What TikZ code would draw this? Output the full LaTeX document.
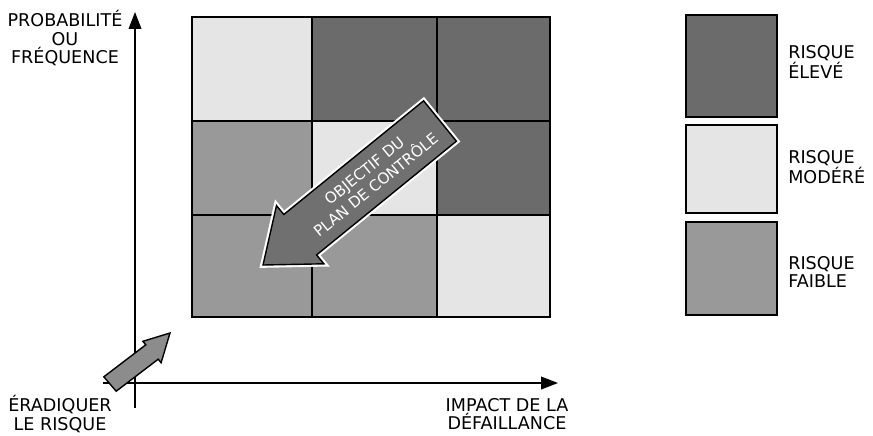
\documentclass[tikz,border=0pt]{standalone}
\usepackage{fontspec}
\setmainfont{DejaVu Sans}
\usetikzlibrary{arrows.meta}
\definecolor{riskhigh}{gray}{0.42}
\definecolor{riskmid}{gray}{0.90}
\definecolor{risklow}{gray}{0.60}
\definecolor{bigarrcol}{gray}{0.44}
\definecolor{smallarrcol}{gray}{0.55}
\tikzset{
  lbl/.style={align=center,inner sep=0pt,font=\fontsize{12.5}{13}\selectfont},
  leglbl/.style={align=left,anchor=west,inner sep=0pt,font=\fontsize{12.5}{12.5}\selectfont},
  arrtxt/.style={align=center,inner sep=0pt,text=white,font=\fontsize{10.8}{13}\selectfont},
  axis/.style={line width=1pt,-{Triangle[length=12pt,width=9pt]}},
  gridline/.style={line width=1.3pt},
  legbox/.style={draw=black,line width=1.3pt},
  blockarr/.style={draw=black,line width=1pt,line join=miter}
}

\begin{document}
\begin{tikzpicture}[x=0.025cm,y=-0.025cm]
  \useasboundingbox (0,0) rectangle (873,435);

  %% risk matrix
  \foreach \xa/\ya/\xb/\yb/\col in {
      192/17/312/121/riskmid, 312/17/437/121/riskhigh, 437/17/550/121/riskhigh,
      192/121/312/215/risklow, 312/121/437/215/riskmid, 437/121/550/215/riskhigh,
      192/215/312/317/risklow, 312/215/437/317/risklow, 437/215/550/317/riskmid}
    \fill[\col] (\xa,\ya) rectangle (\xb,\yb);
  \draw[gridline] (192,17) rectangle (550,317);
  \draw[gridline] (312,17) -- (312,317) (437,17) -- (437,317);
  \draw[gridline] (192,121) -- (550,121) (192,215) -- (550,215);

  %% axes
  \coordinate (ybot) at (135,408);
  \coordinate (ytip) at (135,12);
  \coordinate (xleft) at (103,383);
  \coordinate (xtip) at (558,383);
  \draw[axis] (ybot) -- (ytip);
  \draw[axis] (xleft) -- (xtip);

  \node[lbl] (ylbl) at (65,38) {PROBABILITÉ\\OU\\FRÉQUENCE};
  \node[lbl] (xlbl) at (507,414) {IMPACT DE LA\\DÉFAILLANCE};
  \node[lbl] (eradlbl) at (60,414) {ÉRADIQUER\\LE RISQUE};

  %% big arrow
  \draw[white,line width=4pt,line join=miter]
    (423.6,100.8) -- (456.4,141.2) -- (316.6,254.9) -- (323.9,263.8)
    -- (263,265) -- (276.5,205.6) -- (283.8,214.5) -- cycle;
  \draw[blockarr,fill=bigarrcol]
    (423.6,100.8) -- (456.4,141.2) -- (316.6,254.9) -- (323.9,263.8)
    -- (263,265) -- (276.5,205.6) -- (283.8,214.5) -- cycle;
  \node[arrtxt,rotate=39] (objtxt) at (370,178) {OBJECTIF DU\\PLAN DE CONTRÔLE};

  %% small arrow
  \draw[blockarr,fill=smallarrcol]
    (103.8,376.8) -- (145.8,344.8) -- (142.9,341.3) -- (170,333)
    -- (161.1,362.7) -- (158.2,359.2) -- (116.2,391.2) -- cycle;

  %% legend
  \draw[legbox,fill=riskhigh] (686,15) rectangle (777,117);
  \draw[legbox,fill=riskmid] (686,125) rectangle (777,213);
  \draw[legbox,fill=risklow] (686,222) rectangle (777,315);
  \node[leglbl] (leghigh) at (788,62) {RISQUE\\ÉLEVÉ};
  \node[leglbl] (legmid) at (788,167) {RISQUE\\MODÉRÉ};
  \node[leglbl] (leglow) at (788,272) {RISQUE\\FAIBLE};
\end{tikzpicture}
\end{document}
